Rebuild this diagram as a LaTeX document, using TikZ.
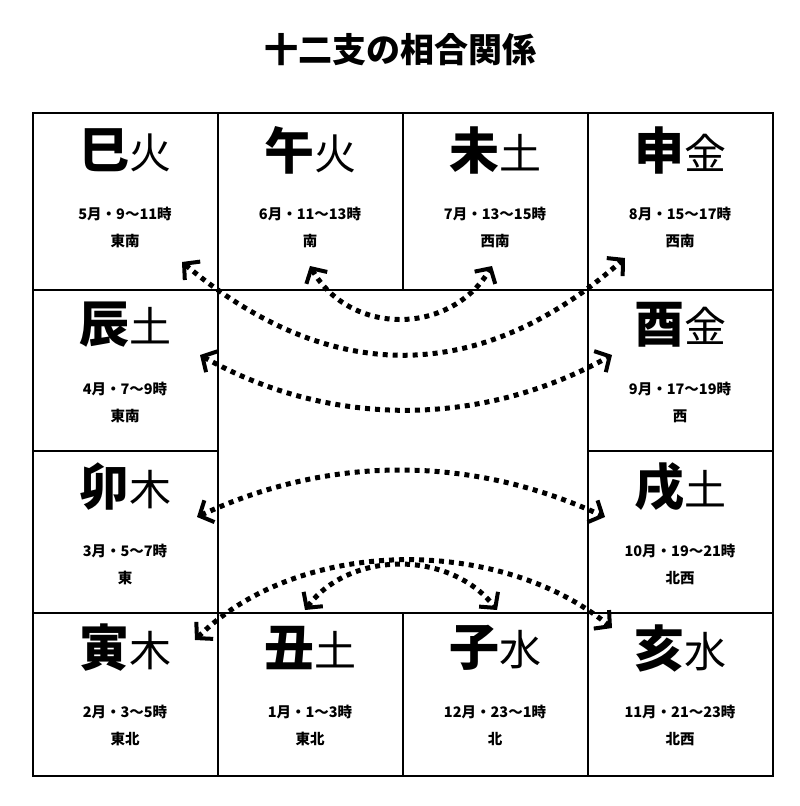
\documentclass[tikz,border=0pt]{standalone}
\usepackage{fontspec}
\setmainfont{Noto Sans CJK JP}
\usetikzlibrary{arrows.meta}
\tikzset{
 big/.style={font=\fontsize{50}{54}\selectfont},
 small/.style={font=\bfseries\fontsize{14.5}{16}\selectfont},
 rel/.style={line width=5pt, dash pattern=on 5pt off 5pt, {Straight Barb[length=11pt,width=24pt,line width=4pt]}-{Straight Barb[length=11pt,width=24pt,line width=4pt]}},
 cell/.style={draw, line width=1.5pt}
}
\begin{document}
\begin{tikzpicture}[x=1pt,y=-1pt]
\useasboundingbox (0,0) rectangle (800,806);
\node[font=\bfseries\fontsize{34}{38}\selectfont] (title) at (400,50) {十二支の相合関係};
% grid
\draw[cell] (33,113) rectangle (773,776);
\foreach \x in {218,403,588}{\draw[cell] (\x,113) -- (\x,290); \draw[cell] (\x,613) -- (\x,776);}
\draw[cell] (33,290) -- (773,290);
\draw[cell] (33,613) -- (773,613);
\draw[cell] (218,290) -- (218,613);
\draw[cell] (588,290) -- (588,613);
\draw[cell] (33,451) -- (218,451);
\draw[cell] (588,451) -- (773,451);
% cells
\newcommand{\cellc}[6]{%
 \node[big,inner sep=0pt] (#1k) at (#2,#3) {{\bfseries #4}{\fontsize{42}{46}\selectfont #5}};
 \node[small,align=center] (#1t) at (#2,#3+77) {#6};}
\cellc{si}{125}{150}{巳}{火}{5月・9〜11時\\[11pt]東南}
\cellc{wu}{310}{150}{午}{火}{6月・11〜13時\\[11pt]南}
\cellc{wei}{495}{150}{未}{土}{7月・13〜15時\\[11pt]西南}
\cellc{shen}{680}{150}{申}{金}{8月・15〜17時\\[11pt]西南}
\cellc{chen}{125}{325}{辰}{土}{4月・7〜9時\\[11pt]東南}
\cellc{you}{680}{325}{酉}{金}{9月・17〜19時\\[11pt]西}
\cellc{mao}{125}{487}{卯}{木}{3月・5〜7時\\[11pt]東}
\cellc{xu}{680}{487}{戌}{土}{10月・19〜21時\\[11pt]北西}
\cellc{yin}{125}{648}{寅}{木}{2月・3〜5時\\[11pt]東北}
\cellc{chou}{310}{648}{丑}{土}{1月・1〜3時\\[11pt]東北}
\cellc{zi}{495}{648}{子}{水}{12月・23〜1時\\[11pt]北}
\cellc{hai}{680}{648}{亥}{水}{11月・21〜23時\\[11pt]北西}
% endpoints
\coordinate (a1) at (310,266); \coordinate (b1) at (492,266);
\coordinate (a2) at (182,262); \coordinate (b2) at (625,258);
\coordinate (a3) at (200,355); \coordinate (b3) at (612,355);
\coordinate (a4) at (197,517); \coordinate (b4) at (605,517);
\coordinate (a5) at (195,640); \coordinate (b5) at (612,628);
\coordinate (a6) at (305,610); \coordinate (b6) at (497,610);
\draw[rel] (a1) .. controls (350,336) and (450,336) .. (b1);
\draw[rel] (a2) .. controls (330,386) and (480,386) .. (b2);
\draw[rel] (a3) .. controls (330,428) and (480,428) .. (b3);
\draw[rel] (a4) .. controls (330,455) and (470,455) .. (b4);
\draw[rel] (a5) .. controls (300,536) and (500,536) .. (b5);
\draw[rel] (a6) .. controls (350,550) and (450,550) .. (b6);
\end{tikzpicture}
\end{document}
